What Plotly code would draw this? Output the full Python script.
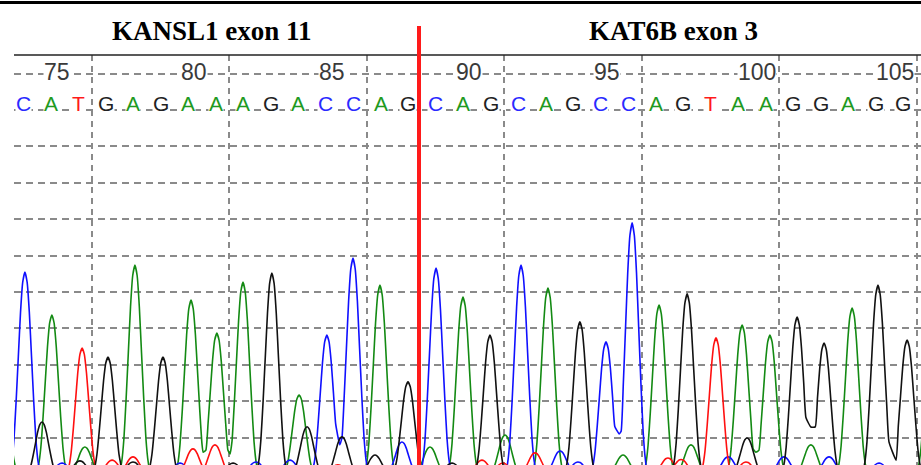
import plotly.graph_objects as go

# ---------------- data ----------------
sequence = "CATGAGAAAGACCAGCAGCAGCCAGTAAGGAGG"
first_base = 74
tick_bases = [75, 80, 85, 90, 95, 100, 105]
tick_labels = ["75", "80", "85", "90", "95", "100", "105"]
fusion_point = 88.4
gene_left = "KANSL1 exon 11"
gene_right = "KAT6B exon 3"

# peak positions (base units) and heights (signal units) per dye channel
blue_x = [74.07, 75.42, 79.71, 82.47, 83.71, 85.05, 86.00, 87.78, 89.02, 92.11, 93.53, 94.18,
          95.20, 96.15, 99.64, 101.67, 103.31, 105.13]
blue_y = [555, 30, 30, 33, 38, 382, 593, 88, 566, 574, 63, 33, 363, 690, 47, 47, 47, 30]
blue_valley_x = [85.52, 95.68]
blue_valley_y = [80, 110]

green_x = [73.27, 75.05, 76.25, 78.07, 80.11, 81.05, 82.00, 84.04, 86.98, 88.80, 90.00, 91.53,
           93.09, 95.82, 97.13, 98.29, 100.15, 101.16, 102.65, 104.15, 107.05]
green_y = [230, 437, 74, 574, 478, 387, 527, 217, 519, 74, 486, 107, 511, 52, 464, 80, 409,
           382, 80, 456, 400]
green_valley_x = [80.55, 81.53, 100.65]
green_valley_y = [60, 55, 60]

red_x = [76.15, 77.24, 78.00, 80.18, 80.98, 85.45, 90.69, 91.45, 92.62, 97.45, 97.93, 99.20, 100.29]
red_y = [346, 38, 47, 69, 80, 25, 38, 30, 58, 44, 40, 374, 33]
red_valley_x = []
red_valley_y = []

black_x = [74.69, 76.07, 77.09, 78.00, 79.09, 81.64, 83.05, 84.33, 85.60, 86.80, 88.00, 89.60,
           90.98, 94.25, 98.15, 100.33, 102.15, 103.13, 105.09, 106.15]
black_y = [143, 36, 321, 33, 321, 30, 552, 130, 102, 52, 253, 30, 382, 418, 495, 99, 431, 360,
           519, 368]
black_valley_x = [102.65, 105.75]
black_valley_y = [129, 38]

# ---------------- styling ----------------
# drawn peak glyph: offsets from the peak (bases) and fraction of peak height
PROFILE_D = [0.0, 0.08, 0.16, 0.24, 0.32, 0.40, 0.48, 0.58]
PROFILE_F = [1.0, 0.95, 0.80, 0.58, 0.36, 0.17, 0.06, 0.0]
COL = {"C": "#1010ff", "A": "#138a13", "T": "#ff1010", "G": "#111111"}
LETTER_COL = {"C": "#2a2aff", "A": "#1f9a1f", "T": "#ff1a1a", "G": "#222222"}
GRID = "#8a8a8a"

W, H = 921, 465
ML, MT = 14, 55


def prof(d):
    d = abs(d)
    if d >= PROFILE_D[-1]:
        return 0.0
    for k in range(len(PROFILE_D) - 1):
        if PROFILE_D[k] <= d <= PROFILE_D[k + 1]:
            t = (d - PROFILE_D[k]) / (PROFILE_D[k + 1] - PROFILE_D[k])
            return PROFILE_F[k] + t * (PROFILE_F[k + 1] - PROFILE_F[k])
    return 0.0


def outline(px, py, vx, vy):
    pts = {}
    n = len(px)
    for i in range(n):
        x, h = px[i], py[i]
        for side in (-1, 1):
            j = i + side
            limit = PROFILE_D[-1]
            bound = None
            floor = -1.0
            if 0 <= j < n:
                xn = px[j]
                vals = [(v, w) for v, w in zip(vx, vy) if min(x, xn) < v < max(x, xn)]
                if vals:
                    bound = vals[0]
                    limit = abs(vals[0][0] - x)
                    floor = vals[0][1]
                elif abs(xn - x) / 2 < limit:
                    limit = abs(xn - x) / 2
                    xm = (x + xn) / 2
                    bound = (xm, max(h * prof(xm - x), py[j] * prof(xm - xn)))
            for d, f in zip(PROFILE_D, PROFILE_F):
                inside = d < limit or (bound is None and d <= limit)
                if inside and h * f > floor:
                    pts[round(x + side * d, 4)] = h * f
            if bound is not None:
                pts[round(bound[0], 4)] = bound[1]
    xs = sorted(pts)
    return xs, [pts[k] for k in xs]


fig = go.Figure()
channels = [
    ("A", green_x, green_y, green_valley_x, green_valley_y),
    ("C", blue_x, blue_y, blue_valley_x, blue_valley_y),
    ("T", red_x, red_y, red_valley_x, red_valley_y),
    ("G", black_x, black_y, black_valley_x, black_valley_y),
]
for base, px, py, vx, vy in channels:
    xs, ys = outline(px, py, vx, vy)
    fig.add_trace(go.Scatter(x=xs, y=ys, mode="lines",
                             line=dict(color=COL[base], width=1.6, shape="spline", smoothing=0.4),
                             hoverinfo="skip", showlegend=False))

annotations = []
# base calls
for i, b in enumerate(sequence):
    annotations.append(dict(x=first_base + i, y=1017, xref="x", yref="y", text=b,
                            showarrow=False, bgcolor="white", borderpad=0,
                            font=dict(family="Liberation Sans, Arial", size=21,
                                      color=LETTER_COL[b])))
# position numbers
for tb, tl in zip(tick_bases, tick_labels):
    off = 0.23 + 0.47 * (len(tl) - 2)
    annotations.append(dict(x=tb + off, y=1105, xref="x", yref="y", text=tl,
                            showarrow=False, bgcolor="white", borderpad=0,
                            font=dict(family="Liberation Sans, Arial", size=23, color="#3a3a3a")))
# gene titles
for label, cx in ((gene_left, 212), (gene_right, 673)):
    annotations.append(dict(x=(cx - ML) / (W - ML), y=(H - 31) / (H - MT), xref="paper",
                            yref="paper", text="<b>" + label + "</b>", showarrow=False,
                            xanchor="center", yanchor="middle",
                            font=dict(family="Liberation Serif, Times New Roman, serif", size=27,
                                      color="black")))

shapes = [
    # outer top rule
    dict(type="line", xref="paper", yref="paper", x0=-ML / (W - ML), x1=1,
         y0=(H - 2.5) / (H - MT), y1=(H - 2.5) / (H - MT), line=dict(color="black", width=3)),
    # frame top
    dict(type="line", xref="paper", yref="paper", x0=0, x1=1, y0=1, y1=1,
         line=dict(color="#222222", width=1.5)),
    # fusion junction
    dict(type="line", xref="x", yref="paper", x0=fusion_point, x1=fusion_point,
         y0=0, y1=(H - 26) / (H - MT), line=dict(color="#ff1a1a", width=4)),
]

x_lo = first_base - (23 - ML) / 27.5
x_hi = first_base + (W - 23) / 27.5
y_lo = (474 - H) / 0.364
y_hi = (474 - MT) / 0.364

fig.update_layout(
    width=W, height=H,
    margin=dict(l=ML, r=0, t=MT, b=0),
    paper_bgcolor="white", plot_bgcolor="white",
    showlegend=False,
    annotations=annotations,
    shapes=shapes,
    xaxis=dict(range=[x_lo, x_hi], showticklabels=False, ticks="", zeroline=False,
               showgrid=True, gridcolor=GRID, griddash="6px,5px", gridwidth=1.5,
               tickvals=[first_base + 2.5 + 5 * k for k in range(7)], showline=False),
    yaxis=dict(range=[y_lo, y_hi], showticklabels=False, ticks="", zeroline=False,
               showgrid=True, gridcolor=GRID, griddash="7px,5px", gridwidth=1.5,
               tickvals=[100 * k for k in range(1, 12)], showline=False),
)

fig.write_html("out.html", config={"displayModeBar": False},
               post_script="document.body.style.margin='0';document.body.style.overflow='hidden';")
